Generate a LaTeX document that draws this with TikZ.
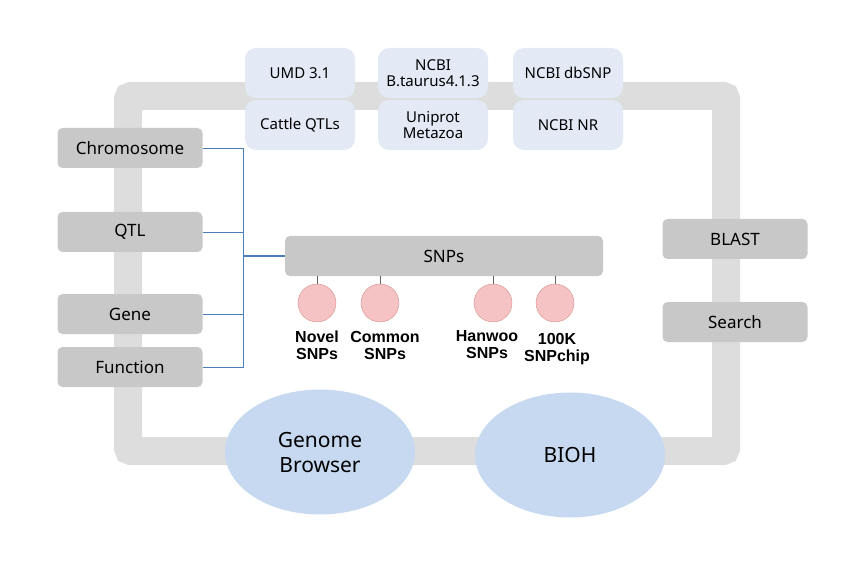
\documentclass[tikz,border=0pt]{standalone}
\usepackage{fontspec}
\setmainfont{Noto Sans}
\newfontfamily\tagfont{Liberation Sans}
\usepackage{tikz}
\usetikzlibrary{shapes}

\definecolor{bandgray}{HTML}{DDDDDD}
\definecolor{boxgray}{HTML}{C8C8C8}
\definecolor{dbblue}{HTML}{E3EAF5}
\definecolor{ellblue}{HTML}{C6D9F1}
\definecolor{snppink}{HTML}{F5C3C3}
\definecolor{snpedge}{HTML}{D48F8D}
\definecolor{linkblue}{HTML}{4A7EBB}

\begin{document}
\begin{tikzpicture}[x=1pt, y=-1pt,
    menu/.style={rectangle, rounded corners=5pt, fill=boxgray, minimum width=145pt, minimum height=40pt, font=\fontsize{17}{19}\selectfont},
    db/.style={rectangle, rounded corners=11pt, fill=dbblue, minimum width=110pt, minimum height=50pt, align=center, font=\fontsize{15}{16}\selectfont},
    tool/.style={ellipse, fill=ellblue, minimum width=190pt, minimum height=125pt, align=center, font=\fontsize{21}{25}\selectfont},
    snp/.style={circle, fill=snppink, draw=snpedge, minimum size=38pt, inner sep=0pt},
    tag/.style={align=center, font=\tagfont\bfseries\fontsize{16}{17}\selectfont},
    link/.style={draw=linkblue, line width=0.8pt}]
        \useasboundingbox (0,0) rectangle (864,561);
		\draw[bandgray, line width=28pt, rounded corners=3pt] (128,96) rectangle (726,451);

		\node[db] (umd) at (300,73) {UMD 3.1};
		\node[db] (btau) at (433,73) {NCBI\\B.taurus4.1.3};
		\node[db] (dbsnp) at (568,73) {NCBI dbSNP};
		\node[db] (cqtl) at (300,125) {Cattle QTLs};
		\node[db] (unip) at (433,125) {Uniprot\\Metazoa};
		\node[db] (nr) at (568,125) {NCBI NR};

		\node[menu] (chrom) at (130,148) {Chromosome};
		\node[menu] (qtl) at (130,232) {QTL};
		\node[menu] (gene) at (130,314) {Gene};
		\node[menu] (func) at (130,367) {Function};
		\node[menu] (blast) at (735,239) {BLAST};
		\node[menu] (search) at (735,322) {Search};

		\node[menu, minimum width=318pt] (snps) at (444,256) {SNPs};
		\coordinate (bus) at (243,256);

		\node[snp] (novel) at (317,303) {};
		\node[snp] (common) at (380,303) {};
		\node[snp] (hanwoo) at (493,303) {};
		\node[snp] (chip) at (555,303) {};
		\node[tag] at (317,345) {Novel\\SNPs};
		\node[tag] at (385,345) {Common\\SNPs};
		\node[tag] at (487,345) {Hanwoo\\SNPs};
		\node[tag] at (557,349) {100K\\SNPchip};

		\node[tool] (gb) at (320,452) {Genome\\Browser};
		\node[tool] (bioh) at (570,455) {BIOH};

		\path[link] (chrom.east) -| (bus)
		(qtl.east) -| (bus)
		(gene.east) -| (bus)
		(func.east) -| (bus);
		\draw[link, line width=1.4pt] (bus) -- (snps.west);
		\foreach \s in {novel, common, hanwoo, chip}
		    \draw[gray!80!black, line width=0.6pt] (\s.north) -- (\s.north |- snps.south);
	\end{tikzpicture}
\end{document}
